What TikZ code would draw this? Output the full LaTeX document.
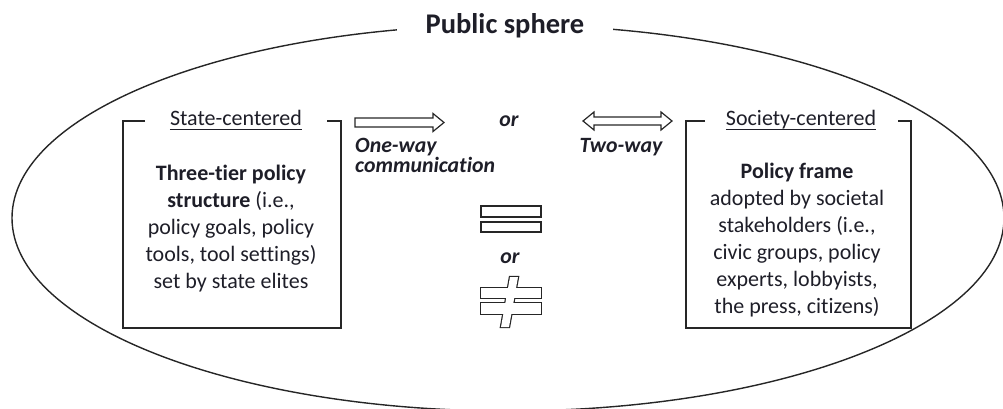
\documentclass[tikz,border=0pt]{standalone}
\usepackage{fontspec}
\setmainfont{Carlito}[Ligatures={NoCommon}]
\definecolor{txt}{HTML}{1E1E28}
\tikzset{
  body/.style={align=center, inner sep=0pt, text=txt, font=\fontsize{22}{27}\selectfont},
  head/.style={inner sep=0pt, text=txt, font=\fontsize{22}{26}\selectfont},
  ital/.style={inner sep=0pt, text=txt, font=\fontsize{21.8}{20}\selectfont\bfseries\itshape},
  frame/.style={line width=1.8pt, draw=black!85},
  sym/.style={line width=1.2pt, draw=black!85, line join=miter},
}
\begin{document}
\begin{tikzpicture}[x=1pt,y=-1pt]
\useasboundingbox (0,0) rectangle (1003,409);
% ellipse
\draw[line width=1.4pt, black!85] (508,218) ellipse [x radius=496, y radius=193];
\node[fill=white, inner xsep=29pt, inner ysep=4pt, text=txt, font=\fontsize{28.5}{30}\selectfont\bfseries] (ps) at (505,26) {Public sphere};

% left bracket box
\node[head, anchor=base] (lhead) at (236,125.5) {State-centered};
\draw[line width=1pt, txt] ([yshift=-3.5pt]lhead.base west) -- ([yshift=-3.5pt]lhead.base east);
\draw[frame] (145,121) -- (123,121) -- (123,328) -- (341,328) -- (341,121) -- (327,121);
\node[body] (ltext) at (231,229) {\textbf{Three-tier policy}\\ \textbf{structure} (i.e.,\\ policy goals, policy\\ tools, tool settings)\\ set by state elites};

% right bracket box
\node[head, anchor=base] (rhead) at (801,125.5) {Society-centered};
\draw[line width=1pt, txt] ([yshift=-3.5pt]rhead.base west) -- ([yshift=-3.5pt]rhead.base east);
\draw[frame] (705,121) -- (686,121) -- (686,328) -- (911,328) -- (911,121) -- (898,121);
\node[body] (rtext) at (797,240) {\textbf{Policy frame}\\ adopted by societal\\ stakeholders (i.e.,\\ civic groups, policy\\ experts, lobbyists,\\ the press, citizens)};

% one-way arrow
\draw[sym] (355,118) -- (433,118) -- (433,113.5) -- (444,122.5) -- (433,131.5) -- (433,127) -- (355,127) -- cycle;
\node[ital, anchor=north west, align=left] (oneway) at (355,138) {One-way\\communication};
\node[ital] (or1) at (509,121) {or};
% two-way arrow
\draw[sym] (583,121) -- (594,112) -- (594,117) -- (661,117) -- (661,112) -- (672,121) -- (661,130) -- (661,125) -- (594,125) -- (594,130) -- cycle;
\node[ital] (twoway) at (621,147) {Two-way};

% equals
\draw[sym] (481,206) rectangle (541,217);
\draw[sym] (481,222) rectangle (541,232);
\node[ital] (or2) at (510,258) {or};
% not equal (outline of the union of two bars and a slash)
\draw[line width=2.4pt, black!85, line join=miter] (481,288) rectangle (541,298);
\draw[line width=2.4pt, black!85, line join=miter] (481,303) rectangle (541,314);
\draw[line width=2.4pt, black!85, line join=miter] (510,277) -- (518,277) -- (509,327) -- (501,327) -- cycle;
\fill[white] (481,288) rectangle (541,298);
\fill[white] (481,303) rectangle (541,314);
\fill[white] (510,277) -- (518,277) -- (509,327) -- (501,327) -- cycle;
\end{tikzpicture}
\end{document}
